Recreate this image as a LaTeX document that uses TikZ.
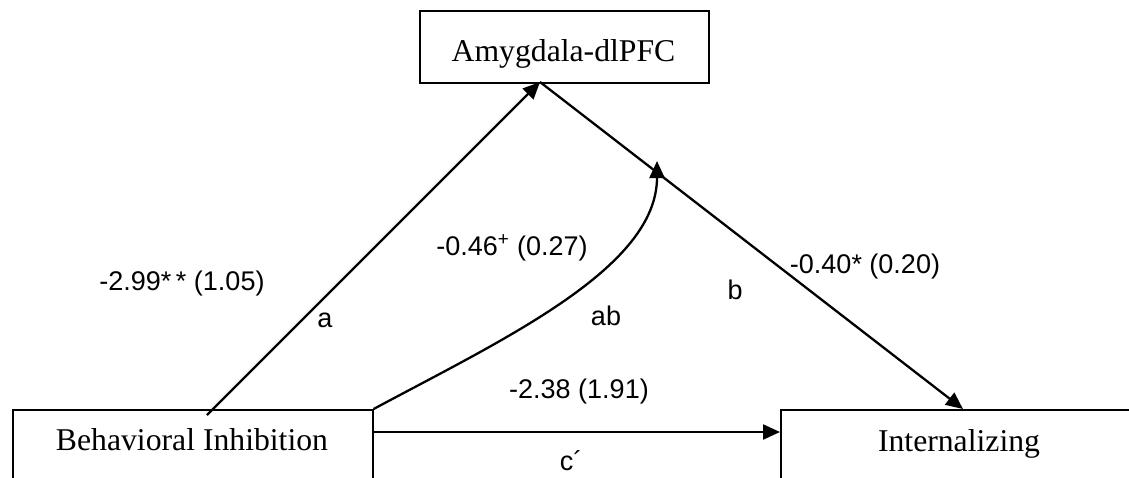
\documentclass[tikz,border=0pt]{standalone}
\usepackage{fontspec}
\setmainfont{Liberation Serif}
\setsansfont{Liberation Sans}
\usetikzlibrary{arrows.meta}
\begin{document}
\begin{tikzpicture}[x=1pt,y=-1pt,
  varbox/.style={draw, line width=1.6pt, inner sep=0pt},
  vartext/.style={font=\fontsize{31.7}{36}\selectfont\rmfamily, anchor=base, inner sep=0pt},
  lab/.style={font=\fontsize{27}{31}\selectfont\sffamily, anchor=base, inner sep=0pt},
  path/.style={line width=2.3pt, -{Triangle[length=17pt,width=15pt]}},
  plain/.style={line width=2.3pt}]
\useasboundingbox (0,0) rectangle (1129,477);
\clip (0,0) rectangle (1129,477);
% boxes
\node[varbox, minimum width=360pt, minimum height=120pt, anchor=north west] (bi) at (12,409) {};
\node[vartext] (bitext) at (192,450) {Behavioral Inhibition};
\node[varbox, minimum width=358pt, minimum height=120pt, anchor=north west] (int) at (780,409) {};
\node[vartext] (inttext) at (959,451) {Internalizing};
\node[varbox, minimum width=289pt, minimum height=72pt, anchor=north west] (amy) at (419,10) {};
\node[vartext] (amytext) at (563.5,61) {Amygdala-dlPFC};
% connector points
\coordinate (aS) at (207,415);
\coordinate (aE) at (540,82);
\coordinate (bE) at (963,409);
\coordinate (abE) at (657,161);
% paths
\draw[path] (aS) -- (aE);
\draw[path] (aE) -- (bE);
\draw[path] (bi.north east) .. controls (504,339) and (657,268) .. (abE);
\draw[path] (bi.east |- 0,432) -- (int.west |- 0,432);
% labels
\node[lab] (la) at (182,290) {-2.99*\,* (1.05)};
\node[lab] (lata) at (325,327) {a};
\node[lab] (lab1) at (512,255) {-0.46\textsuperscript{+} (0.27)};
\node[lab] (labab) at (606,325) {ab};
\node[lab] (labb) at (735,299) {b};
\node[lab] (lbv) at (865,273) {-0.40* (0.20)};
\node[lab] (lcv) at (579,398) {-2.38 (1.91)};
\node[lab] (lc) at (571,470) {c´};
\end{tikzpicture}
\end{document}
